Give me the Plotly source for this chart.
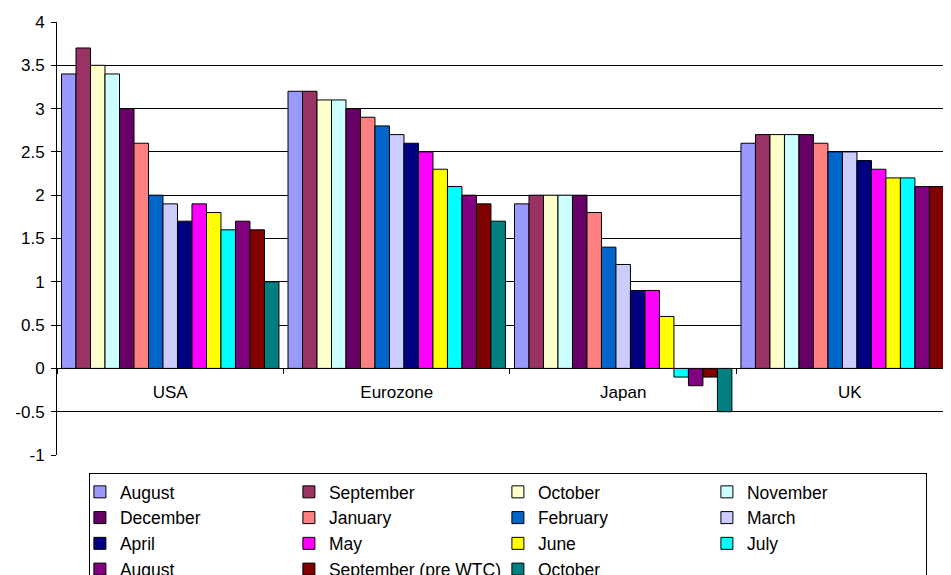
import plotly.graph_objs as go

# Regions on the category axis
regions = ['USA', 'Eurozone', 'Japan', 'UK']

# One series per month of the survey (legend order)
months = ['August', 'September', 'October', 'November', 'December', 'January',
          'February', 'March', 'April', 'May', 'June', 'July', 'August',
          'September (pre WTC)', 'October']

# Values per month, in region order USA, Eurozone, Japan, UK
aug_00 = [3.4, 3.2, 1.9, 2.6]
sep_00 = [3.7, 3.2, 2.0, 2.7]
oct_00 = [3.5, 3.1, 2.0, 2.7]
nov_00 = [3.4, 3.1, 2.0, 2.7]
dec_00 = [3.0, 3.0, 2.0, 2.7]
jan_01 = [2.6, 2.9, 1.8, 2.6]
feb_01 = [2.0, 2.8, 1.4, 2.5]
mar_01 = [1.9, 2.7, 1.2, 2.5]
apr_01 = [1.7, 2.6, 0.9, 2.4]
may_01 = [1.9, 2.5, 0.9, 2.3]
jun_01 = [1.8, 2.3, 0.6, 2.2]
jul_01 = [1.6, 2.1, -0.1, 2.2]
aug_01 = [1.7, 2.0, -0.2, 2.1]
sep_01 = [1.6, 1.9, -0.1, 2.1]
oct_01 = [1.0, 1.7, -0.5, 2.1]

series = [aug_00, sep_00, oct_00, nov_00, dec_00, jan_01, feb_01, mar_01,
          apr_01, may_01, jun_01, jul_01, aug_01, sep_01, oct_01]

# Classic spreadsheet chart palette
colors = ['#9999FF', '#993366', '#FFFFCC', '#CCFFFF', '#660066', '#FF8080',
          '#0066CC', '#CCCCFF', '#000080', '#FF00FF', '#FFFF00', '#00FFFF',
          '#800080', '#800000', '#008080']

y_ticks = [-1, -0.5, 0, 0.5, 1, 1.5, 2, 2.5, 3, 3.5, 4]
y_tick_text = ['-1', '-0.5', '0', '0.5', '1', '1.5', '2', '2.5', '3', '3.5', '4']

font_family = 'Arial, Liberation Sans, sans-serif'

fig = go.Figure()
for name, vals, col in zip(months, series, colors):
    fig.add_trace(go.Bar(x=regions, y=vals, name=name,
                         marker=dict(color=col, line=dict(color='black', width=1))))

# the page body adds 8px on the left and top, margins allow for it;
# the chart is cut off on the right like the original
fig.update_layout(
    width=951, height=575,
    margin=dict(l=49, r=16, t=14, b=128, autoexpand=False),
    paper_bgcolor='white', plot_bgcolor='white',
    font=dict(family=font_family, size=16, color='black'),
    barmode='group', bargap=0.04, bargroupgap=0,
    showlegend=True,
    legend=dict(orientation='h', x=0.036, y=-0.0415, xanchor='left', yanchor='top',
                bordercolor='black', borderwidth=1, bgcolor='white',
                font=dict(size=17.5), entrywidth=174, indentation=-10,
                traceorder='normal'),
)

# category axis sits on the zero line, ticks between categories
fig.update_xaxes(
    range=[-0.5, 3.412], anchor='free', position=0.2,
    showline=True, linecolor='black', linewidth=1,
    ticks='outside', tickson='boundaries', ticklen=5, tickcolor='black',
    ticklabelstandoff=8, tickfont=dict(size=17), showgrid=False,
)
fig.update_yaxes(
    range=[-1, 4], tickvals=y_ticks, ticktext=y_tick_text,
    showline=True, linecolor='black', linewidth=1,
    ticks='outside', ticklen=5, tickcolor='black', ticklabelstandoff=3,
    showgrid=True, gridcolor='black', gridwidth=1, zeroline=False,
    tickfont=dict(size=17),
)

fig.write_html('out.html')
